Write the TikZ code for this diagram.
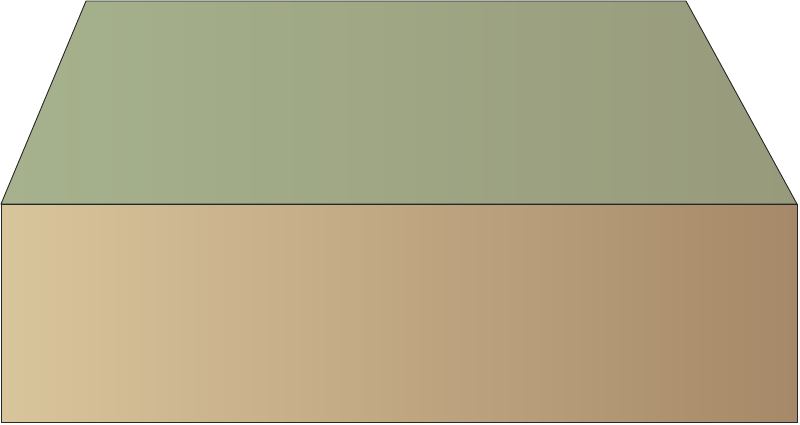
\documentclass[tikz,border=0pt]{standalone}
\usetikzlibrary{calc}
\definecolor{topL}{HTML}{A6B28D}
\definecolor{topR}{HTML}{979A7B}
\definecolor{frL}{HTML}{D9C59C}
\definecolor{frM}{HTML}{C3A784}
\definecolor{frR}{HTML}{A68968}
\tikzset{edge/.style={draw=black!85, line width=0.9pt, line join=miter}}
\begin{document}
\begin{tikzpicture}[x=1pt,y=-1pt]
\useasboundingbox (0,0) rectangle (800,424);
\coordinate (tl) at (86,1);
\coordinate (tr) at (686,1);
\coordinate (ml) at (1,204);
\coordinate (mr) at (797,204);
\coordinate (bl) at (1,422);
\coordinate (br) at (797,422);
\path[left color=topL, right color=topR, edge] (tl) -- (tr) -- (mr) -- (ml) -- cycle;
\path[left color=frL, middle color=frM, right color=frR, edge] (ml) -- (mr) -- (br) -- (bl) -- cycle;
\end{tikzpicture}
\end{document}
